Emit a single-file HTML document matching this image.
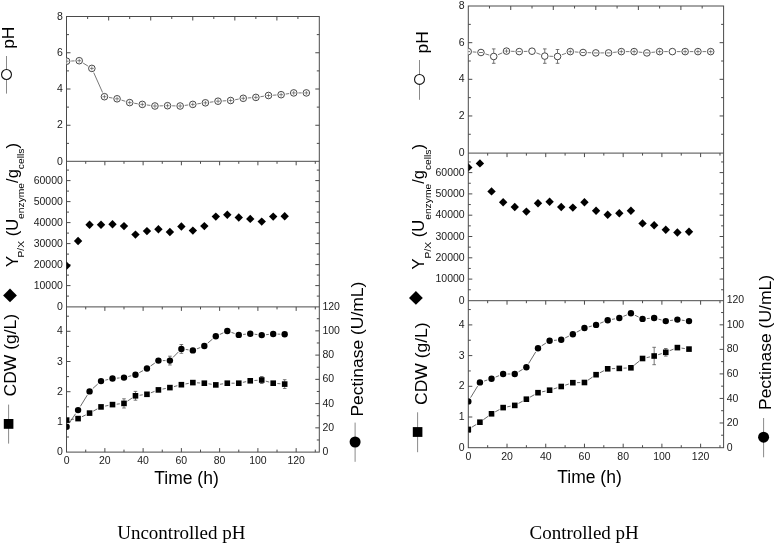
<!DOCTYPE html>
<html><head><meta charset="utf-8"><style>
html,body{margin:0;padding:0;background:#fff;}
svg{display:block;font-family:"Liberation Sans",sans-serif;will-change:transform;}
.cap{font-family:"Liberation Serif",serif;}
</style></head><body>
<svg width="778" height="546" viewBox="0 0 778 546">
<rect width="778" height="546" fill="#fff"/>
<rect x="66.5" y="16.5" width="252.8" height="435.6" fill="none" stroke="#4a4a4a" stroke-width="1"/>
<line x1="66.5" y1="161.3" x2="319.3" y2="161.3" stroke="#4a4a4a" stroke-width="1"/>
<line x1="66.5" y1="306.9" x2="319.3" y2="306.9" stroke="#4a4a4a" stroke-width="1"/>
<line x1="87.63" y1="16.5" x2="87.63" y2="19" stroke="#4a4a4a" stroke-width="1"/>
<line x1="108.66" y1="16.5" x2="108.66" y2="20.5" stroke="#4a4a4a" stroke-width="1"/>
<line x1="129.69" y1="16.5" x2="129.69" y2="19" stroke="#4a4a4a" stroke-width="1"/>
<line x1="150.72" y1="16.5" x2="150.72" y2="20.5" stroke="#4a4a4a" stroke-width="1"/>
<line x1="171.75" y1="16.5" x2="171.75" y2="19" stroke="#4a4a4a" stroke-width="1"/>
<line x1="192.78" y1="16.5" x2="192.78" y2="20.5" stroke="#4a4a4a" stroke-width="1"/>
<line x1="213.81" y1="16.5" x2="213.81" y2="19" stroke="#4a4a4a" stroke-width="1"/>
<line x1="234.84" y1="16.5" x2="234.84" y2="20.5" stroke="#4a4a4a" stroke-width="1"/>
<line x1="255.87" y1="16.5" x2="255.87" y2="19" stroke="#4a4a4a" stroke-width="1"/>
<line x1="276.9" y1="16.5" x2="276.9" y2="20.5" stroke="#4a4a4a" stroke-width="1"/>
<line x1="297.93" y1="16.5" x2="297.93" y2="19" stroke="#4a4a4a" stroke-width="1"/>
<line x1="85.73" y1="161.3" x2="85.73" y2="163.8" stroke="#4a4a4a" stroke-width="1"/>
<line x1="85.73" y1="306.9" x2="85.73" y2="309.4" stroke="#4a4a4a" stroke-width="1"/>
<line x1="85.73" y1="452.1" x2="85.73" y2="449.6" stroke="#4a4a4a" stroke-width="1"/>
<line x1="104.86" y1="161.3" x2="104.86" y2="165.3" stroke="#4a4a4a" stroke-width="1"/>
<line x1="104.86" y1="306.9" x2="104.86" y2="310.9" stroke="#4a4a4a" stroke-width="1"/>
<line x1="104.86" y1="452.1" x2="104.86" y2="448.1" stroke="#4a4a4a" stroke-width="1"/>
<line x1="123.99" y1="161.3" x2="123.99" y2="163.8" stroke="#4a4a4a" stroke-width="1"/>
<line x1="123.99" y1="306.9" x2="123.99" y2="309.4" stroke="#4a4a4a" stroke-width="1"/>
<line x1="123.99" y1="452.1" x2="123.99" y2="449.6" stroke="#4a4a4a" stroke-width="1"/>
<line x1="143.12" y1="161.3" x2="143.12" y2="165.3" stroke="#4a4a4a" stroke-width="1"/>
<line x1="143.12" y1="306.9" x2="143.12" y2="310.9" stroke="#4a4a4a" stroke-width="1"/>
<line x1="143.12" y1="452.1" x2="143.12" y2="448.1" stroke="#4a4a4a" stroke-width="1"/>
<line x1="162.25" y1="161.3" x2="162.25" y2="163.8" stroke="#4a4a4a" stroke-width="1"/>
<line x1="162.25" y1="306.9" x2="162.25" y2="309.4" stroke="#4a4a4a" stroke-width="1"/>
<line x1="162.25" y1="452.1" x2="162.25" y2="449.6" stroke="#4a4a4a" stroke-width="1"/>
<line x1="181.38" y1="161.3" x2="181.38" y2="165.3" stroke="#4a4a4a" stroke-width="1"/>
<line x1="181.38" y1="306.9" x2="181.38" y2="310.9" stroke="#4a4a4a" stroke-width="1"/>
<line x1="181.38" y1="452.1" x2="181.38" y2="448.1" stroke="#4a4a4a" stroke-width="1"/>
<line x1="200.51" y1="161.3" x2="200.51" y2="163.8" stroke="#4a4a4a" stroke-width="1"/>
<line x1="200.51" y1="306.9" x2="200.51" y2="309.4" stroke="#4a4a4a" stroke-width="1"/>
<line x1="200.51" y1="452.1" x2="200.51" y2="449.6" stroke="#4a4a4a" stroke-width="1"/>
<line x1="219.64" y1="161.3" x2="219.64" y2="165.3" stroke="#4a4a4a" stroke-width="1"/>
<line x1="219.64" y1="306.9" x2="219.64" y2="310.9" stroke="#4a4a4a" stroke-width="1"/>
<line x1="219.64" y1="452.1" x2="219.64" y2="448.1" stroke="#4a4a4a" stroke-width="1"/>
<line x1="238.77" y1="161.3" x2="238.77" y2="163.8" stroke="#4a4a4a" stroke-width="1"/>
<line x1="238.77" y1="306.9" x2="238.77" y2="309.4" stroke="#4a4a4a" stroke-width="1"/>
<line x1="238.77" y1="452.1" x2="238.77" y2="449.6" stroke="#4a4a4a" stroke-width="1"/>
<line x1="257.9" y1="161.3" x2="257.9" y2="165.3" stroke="#4a4a4a" stroke-width="1"/>
<line x1="257.9" y1="306.9" x2="257.9" y2="310.9" stroke="#4a4a4a" stroke-width="1"/>
<line x1="257.9" y1="452.1" x2="257.9" y2="448.1" stroke="#4a4a4a" stroke-width="1"/>
<line x1="277.03" y1="161.3" x2="277.03" y2="163.8" stroke="#4a4a4a" stroke-width="1"/>
<line x1="277.03" y1="306.9" x2="277.03" y2="309.4" stroke="#4a4a4a" stroke-width="1"/>
<line x1="277.03" y1="452.1" x2="277.03" y2="449.6" stroke="#4a4a4a" stroke-width="1"/>
<line x1="296.16" y1="161.3" x2="296.16" y2="165.3" stroke="#4a4a4a" stroke-width="1"/>
<line x1="296.16" y1="306.9" x2="296.16" y2="310.9" stroke="#4a4a4a" stroke-width="1"/>
<line x1="296.16" y1="452.1" x2="296.16" y2="448.1" stroke="#4a4a4a" stroke-width="1"/>
<line x1="315.29" y1="161.3" x2="315.29" y2="163.8" stroke="#4a4a4a" stroke-width="1"/>
<line x1="315.29" y1="306.9" x2="315.29" y2="309.4" stroke="#4a4a4a" stroke-width="1"/>
<line x1="315.29" y1="452.1" x2="315.29" y2="449.6" stroke="#4a4a4a" stroke-width="1"/>
<line x1="66.5" y1="143.38" x2="69" y2="143.38" stroke="#4a4a4a" stroke-width="1"/>
<line x1="319.3" y1="143.38" x2="316.8" y2="143.38" stroke="#4a4a4a" stroke-width="1"/>
<line x1="66.5" y1="125.25" x2="70.5" y2="125.25" stroke="#4a4a4a" stroke-width="1"/>
<line x1="319.3" y1="125.25" x2="315.3" y2="125.25" stroke="#4a4a4a" stroke-width="1"/>
<line x1="66.5" y1="107.12" x2="69" y2="107.12" stroke="#4a4a4a" stroke-width="1"/>
<line x1="319.3" y1="107.12" x2="316.8" y2="107.12" stroke="#4a4a4a" stroke-width="1"/>
<line x1="66.5" y1="89" x2="70.5" y2="89" stroke="#4a4a4a" stroke-width="1"/>
<line x1="319.3" y1="89" x2="315.3" y2="89" stroke="#4a4a4a" stroke-width="1"/>
<line x1="66.5" y1="70.88" x2="69" y2="70.88" stroke="#4a4a4a" stroke-width="1"/>
<line x1="319.3" y1="70.88" x2="316.8" y2="70.88" stroke="#4a4a4a" stroke-width="1"/>
<line x1="66.5" y1="52.75" x2="70.5" y2="52.75" stroke="#4a4a4a" stroke-width="1"/>
<line x1="319.3" y1="52.75" x2="315.3" y2="52.75" stroke="#4a4a4a" stroke-width="1"/>
<line x1="66.5" y1="34.62" x2="69" y2="34.62" stroke="#4a4a4a" stroke-width="1"/>
<line x1="319.3" y1="34.62" x2="316.8" y2="34.62" stroke="#4a4a4a" stroke-width="1"/>
<line x1="66.5" y1="296.1" x2="69" y2="296.1" stroke="#4a4a4a" stroke-width="1"/>
<line x1="319.3" y1="296.1" x2="316.8" y2="296.1" stroke="#4a4a4a" stroke-width="1"/>
<line x1="66.5" y1="285.6" x2="70.5" y2="285.6" stroke="#4a4a4a" stroke-width="1"/>
<line x1="319.3" y1="285.6" x2="315.3" y2="285.6" stroke="#4a4a4a" stroke-width="1"/>
<line x1="66.5" y1="275.1" x2="69" y2="275.1" stroke="#4a4a4a" stroke-width="1"/>
<line x1="319.3" y1="275.1" x2="316.8" y2="275.1" stroke="#4a4a4a" stroke-width="1"/>
<line x1="66.5" y1="264.6" x2="70.5" y2="264.6" stroke="#4a4a4a" stroke-width="1"/>
<line x1="319.3" y1="264.6" x2="315.3" y2="264.6" stroke="#4a4a4a" stroke-width="1"/>
<line x1="66.5" y1="254.1" x2="69" y2="254.1" stroke="#4a4a4a" stroke-width="1"/>
<line x1="319.3" y1="254.1" x2="316.8" y2="254.1" stroke="#4a4a4a" stroke-width="1"/>
<line x1="66.5" y1="243.6" x2="70.5" y2="243.6" stroke="#4a4a4a" stroke-width="1"/>
<line x1="319.3" y1="243.6" x2="315.3" y2="243.6" stroke="#4a4a4a" stroke-width="1"/>
<line x1="66.5" y1="233.1" x2="69" y2="233.1" stroke="#4a4a4a" stroke-width="1"/>
<line x1="319.3" y1="233.1" x2="316.8" y2="233.1" stroke="#4a4a4a" stroke-width="1"/>
<line x1="66.5" y1="222.6" x2="70.5" y2="222.6" stroke="#4a4a4a" stroke-width="1"/>
<line x1="319.3" y1="222.6" x2="315.3" y2="222.6" stroke="#4a4a4a" stroke-width="1"/>
<line x1="66.5" y1="212.1" x2="69" y2="212.1" stroke="#4a4a4a" stroke-width="1"/>
<line x1="319.3" y1="212.1" x2="316.8" y2="212.1" stroke="#4a4a4a" stroke-width="1"/>
<line x1="66.5" y1="201.6" x2="70.5" y2="201.6" stroke="#4a4a4a" stroke-width="1"/>
<line x1="319.3" y1="201.6" x2="315.3" y2="201.6" stroke="#4a4a4a" stroke-width="1"/>
<line x1="66.5" y1="191.1" x2="69" y2="191.1" stroke="#4a4a4a" stroke-width="1"/>
<line x1="319.3" y1="191.1" x2="316.8" y2="191.1" stroke="#4a4a4a" stroke-width="1"/>
<line x1="66.5" y1="180.6" x2="70.5" y2="180.6" stroke="#4a4a4a" stroke-width="1"/>
<line x1="319.3" y1="180.6" x2="315.3" y2="180.6" stroke="#4a4a4a" stroke-width="1"/>
<line x1="66.5" y1="170.1" x2="69" y2="170.1" stroke="#4a4a4a" stroke-width="1"/>
<line x1="319.3" y1="170.1" x2="316.8" y2="170.1" stroke="#4a4a4a" stroke-width="1"/>
<line x1="66.5" y1="437" x2="69" y2="437" stroke="#4a4a4a" stroke-width="1"/>
<line x1="66.5" y1="421.9" x2="70.5" y2="421.9" stroke="#4a4a4a" stroke-width="1"/>
<line x1="66.5" y1="406.8" x2="69" y2="406.8" stroke="#4a4a4a" stroke-width="1"/>
<line x1="66.5" y1="391.7" x2="70.5" y2="391.7" stroke="#4a4a4a" stroke-width="1"/>
<line x1="66.5" y1="376.6" x2="69" y2="376.6" stroke="#4a4a4a" stroke-width="1"/>
<line x1="66.5" y1="361.5" x2="70.5" y2="361.5" stroke="#4a4a4a" stroke-width="1"/>
<line x1="66.5" y1="346.4" x2="69" y2="346.4" stroke="#4a4a4a" stroke-width="1"/>
<line x1="66.5" y1="331.3" x2="70.5" y2="331.3" stroke="#4a4a4a" stroke-width="1"/>
<line x1="66.5" y1="316.2" x2="69" y2="316.2" stroke="#4a4a4a" stroke-width="1"/>
<line x1="319.3" y1="439.98" x2="316.8" y2="439.98" stroke="#4a4a4a" stroke-width="1"/>
<line x1="319.3" y1="427.85" x2="315.3" y2="427.85" stroke="#4a4a4a" stroke-width="1"/>
<line x1="319.3" y1="415.73" x2="316.8" y2="415.73" stroke="#4a4a4a" stroke-width="1"/>
<line x1="319.3" y1="403.6" x2="315.3" y2="403.6" stroke="#4a4a4a" stroke-width="1"/>
<line x1="319.3" y1="391.48" x2="316.8" y2="391.48" stroke="#4a4a4a" stroke-width="1"/>
<line x1="319.3" y1="379.35" x2="315.3" y2="379.35" stroke="#4a4a4a" stroke-width="1"/>
<line x1="319.3" y1="367.23" x2="316.8" y2="367.23" stroke="#4a4a4a" stroke-width="1"/>
<line x1="319.3" y1="355.1" x2="315.3" y2="355.1" stroke="#4a4a4a" stroke-width="1"/>
<line x1="319.3" y1="342.98" x2="316.8" y2="342.98" stroke="#4a4a4a" stroke-width="1"/>
<line x1="319.3" y1="330.85" x2="315.3" y2="330.85" stroke="#4a4a4a" stroke-width="1"/>
<line x1="319.3" y1="318.73" x2="316.8" y2="318.73" stroke="#4a4a4a" stroke-width="1"/>
<text x="62.9" y="164.6" font-size="10.5" text-anchor="end" fill="#1a1a1a">0</text>
<text x="62.9" y="128.35" font-size="10.5" text-anchor="end" fill="#1a1a1a">2</text>
<text x="62.9" y="92.1" font-size="10.5" text-anchor="end" fill="#1a1a1a">4</text>
<text x="62.9" y="55.85" font-size="10.5" text-anchor="end" fill="#1a1a1a">6</text>
<text x="62.9" y="19.6" font-size="10.5" text-anchor="end" fill="#1a1a1a">8</text>
<text x="62.9" y="309.7" font-size="10.5" text-anchor="end" fill="#1a1a1a">0</text>
<text x="62.9" y="288.7" font-size="10.5" text-anchor="end" fill="#1a1a1a">10000</text>
<text x="62.9" y="267.7" font-size="10.5" text-anchor="end" fill="#1a1a1a">20000</text>
<text x="62.9" y="246.7" font-size="10.5" text-anchor="end" fill="#1a1a1a">30000</text>
<text x="62.9" y="225.7" font-size="10.5" text-anchor="end" fill="#1a1a1a">40000</text>
<text x="62.9" y="204.7" font-size="10.5" text-anchor="end" fill="#1a1a1a">50000</text>
<text x="62.9" y="183.7" font-size="10.5" text-anchor="end" fill="#1a1a1a">60000</text>
<text x="62.9" y="455.2" font-size="10.5" text-anchor="end" fill="#1a1a1a">0</text>
<text x="62.9" y="425" font-size="10.5" text-anchor="end" fill="#1a1a1a">1</text>
<text x="62.9" y="394.8" font-size="10.5" text-anchor="end" fill="#1a1a1a">2</text>
<text x="62.9" y="364.6" font-size="10.5" text-anchor="end" fill="#1a1a1a">3</text>
<text x="62.9" y="334.4" font-size="10.5" text-anchor="end" fill="#1a1a1a">4</text>
<text x="322.4" y="455.2" font-size="10.5" text-anchor="start" fill="#1a1a1a">0</text>
<text x="322.4" y="430.95" font-size="10.5" text-anchor="start" fill="#1a1a1a">20</text>
<text x="322.4" y="406.7" font-size="10.5" text-anchor="start" fill="#1a1a1a">40</text>
<text x="322.4" y="382.45" font-size="10.5" text-anchor="start" fill="#1a1a1a">60</text>
<text x="322.4" y="358.2" font-size="10.5" text-anchor="start" fill="#1a1a1a">80</text>
<text x="322.4" y="333.95" font-size="10.5" text-anchor="start" fill="#1a1a1a">100</text>
<text x="322.4" y="309.7" font-size="10.5" text-anchor="start" fill="#1a1a1a">120</text>
<text x="66.6" y="464.1" font-size="10.5" text-anchor="middle" fill="#1a1a1a">0</text>
<text x="104.86" y="464.1" font-size="10.5" text-anchor="middle" fill="#1a1a1a">20</text>
<text x="143.12" y="464.1" font-size="10.5" text-anchor="middle" fill="#1a1a1a">40</text>
<text x="181.38" y="464.1" font-size="10.5" text-anchor="middle" fill="#1a1a1a">60</text>
<text x="219.64" y="464.1" font-size="10.5" text-anchor="middle" fill="#1a1a1a">80</text>
<text x="257.9" y="464.1" font-size="10.5" text-anchor="middle" fill="#1a1a1a">100</text>
<text x="296.16" y="464.1" font-size="10.5" text-anchor="middle" fill="#1a1a1a">120</text>
<clipPath id="cL"><rect x="66.5" y="0" width="262.8" height="546"/></clipPath>
<g clip-path="url(#cL)">
<path d="M71.2 61.02L74.62 60.88M83.14 63.1L87.91 66M93.71 72.6L102.58 92.5M108.99 97.46L112.53 98.04M121.48 100.13L125.29 101.27M134.24 103.25L137.75 103.75M146.87 104.98L150.36 105.42M159.52 105.89L162.95 105.81M172.14 105.81L175.56 105.89M184.73 105.42L188.22 104.98M197.34 103.82L200.83 103.38M209.96 102.22L213.45 101.78M222.61 100.95L226.04 100.75M235.17 99.71L238.72 99.09M247.84 97.97L251.28 97.73M260.42 96.72L263.94 96.18M273.08 95.21L276.52 94.99M285.66 94.05L289.17 93.55M298.32 92.9L301.74 92.9" fill="none" stroke="#555" stroke-width="0.8"/>
<circle cx="66.6" cy="61.2" r="3.3" fill="#fff" stroke="#333" stroke-width="0.9"/>
<path d="M64.6 61.2h4M66.6 59.2v4" stroke="#555" stroke-width="0.7"/>
<circle cx="79.22" cy="60.7" r="3.3" fill="#fff" stroke="#333" stroke-width="0.9"/>
<path d="M77.22 60.7h4M79.22 58.7v4" stroke="#555" stroke-width="0.7"/>
<circle cx="91.84" cy="68.4" r="3.3" fill="#fff" stroke="#333" stroke-width="0.9"/>
<path d="M89.84 68.4h4M91.84 66.4v4" stroke="#555" stroke-width="0.7"/>
<circle cx="104.45" cy="96.7" r="3.3" fill="#fff" stroke="#333" stroke-width="0.9"/>
<path d="M102.45 96.7h4M104.45 94.7v4" stroke="#555" stroke-width="0.7"/>
<circle cx="117.07" cy="98.8" r="3.3" fill="#fff" stroke="#333" stroke-width="0.9"/>
<path d="M115.07 98.8h4M117.07 96.8v4" stroke="#555" stroke-width="0.7"/>
<circle cx="129.69" cy="102.6" r="3.3" fill="#fff" stroke="#333" stroke-width="0.9"/>
<path d="M127.69 102.6h4M129.69 100.6v4" stroke="#555" stroke-width="0.7"/>
<circle cx="142.31" cy="104.4" r="3.3" fill="#fff" stroke="#333" stroke-width="0.9"/>
<path d="M140.31 104.4h4M142.31 102.4v4" stroke="#555" stroke-width="0.7"/>
<circle cx="154.93" cy="106" r="3.3" fill="#fff" stroke="#333" stroke-width="0.9"/>
<path d="M152.93 106h4M154.93 104v4" stroke="#555" stroke-width="0.7"/>
<circle cx="167.54" cy="105.7" r="3.3" fill="#fff" stroke="#333" stroke-width="0.9"/>
<path d="M165.54 105.7h4M167.54 103.7v4" stroke="#555" stroke-width="0.7"/>
<circle cx="180.16" cy="106" r="3.3" fill="#fff" stroke="#333" stroke-width="0.9"/>
<path d="M178.16 106h4M180.16 104v4" stroke="#555" stroke-width="0.7"/>
<circle cx="192.78" cy="104.4" r="3.3" fill="#fff" stroke="#333" stroke-width="0.9"/>
<path d="M190.78 104.4h4M192.78 102.4v4" stroke="#555" stroke-width="0.7"/>
<circle cx="205.4" cy="102.8" r="3.3" fill="#fff" stroke="#333" stroke-width="0.9"/>
<path d="M203.4 102.8h4M205.4 100.8v4" stroke="#555" stroke-width="0.7"/>
<circle cx="218.02" cy="101.2" r="3.3" fill="#fff" stroke="#333" stroke-width="0.9"/>
<path d="M216.02 101.2h4M218.02 99.2v4" stroke="#555" stroke-width="0.7"/>
<circle cx="230.63" cy="100.5" r="3.3" fill="#fff" stroke="#333" stroke-width="0.9"/>
<path d="M228.63 100.5h4M230.63 98.5v4" stroke="#555" stroke-width="0.7"/>
<circle cx="243.25" cy="98.3" r="3.3" fill="#fff" stroke="#333" stroke-width="0.9"/>
<path d="M241.25 98.3h4M243.25 96.3v4" stroke="#555" stroke-width="0.7"/>
<circle cx="255.87" cy="97.4" r="3.3" fill="#fff" stroke="#333" stroke-width="0.9"/>
<path d="M253.87 97.4h4M255.87 95.4v4" stroke="#555" stroke-width="0.7"/>
<circle cx="268.49" cy="95.5" r="3.3" fill="#fff" stroke="#333" stroke-width="0.9"/>
<path d="M266.49 95.5h4M268.49 93.5v4" stroke="#555" stroke-width="0.7"/>
<circle cx="281.11" cy="94.7" r="3.3" fill="#fff" stroke="#333" stroke-width="0.9"/>
<path d="M279.11 94.7h4M281.11 92.7v4" stroke="#555" stroke-width="0.7"/>
<circle cx="293.72" cy="92.9" r="3.3" fill="#fff" stroke="#333" stroke-width="0.9"/>
<path d="M291.72 92.9h4M293.72 90.9v4" stroke="#555" stroke-width="0.7"/>
<circle cx="306.34" cy="92.9" r="3.3" fill="#fff" stroke="#333" stroke-width="0.9"/>
<path d="M304.34 92.9h4M306.34 90.9v4" stroke="#555" stroke-width="0.7"/>
<path d="M66.6 261.5L70.8 265.7L66.6 269.9L62.4 265.7Z" fill="#000"/>
<path d="M78.08 236.8L82.28 241L78.08 245.2L73.88 241Z" fill="#000"/>
<path d="M89.56 220.5L93.76 224.7L89.56 228.9L85.36 224.7Z" fill="#000"/>
<path d="M101.03 220.5L105.23 224.7L101.03 228.9L96.83 224.7Z" fill="#000"/>
<path d="M112.51 220.1L116.71 224.3L112.51 228.5L108.31 224.3Z" fill="#000"/>
<path d="M123.99 221.9L128.19 226.1L123.99 230.3L119.79 226.1Z" fill="#000"/>
<path d="M135.47 230.4L139.67 234.6L135.47 238.8L131.27 234.6Z" fill="#000"/>
<path d="M146.95 226.9L151.15 231.1L146.95 235.3L142.75 231.1Z" fill="#000"/>
<path d="M158.42 225.1L162.62 229.3L158.42 233.5L154.22 229.3Z" fill="#000"/>
<path d="M169.9 227.8L174.1 232L169.9 236.2L165.7 232Z" fill="#000"/>
<path d="M181.38 222.3L185.58 226.5L181.38 230.7L177.18 226.5Z" fill="#000"/>
<path d="M192.86 226.4L197.06 230.6L192.86 234.8L188.66 230.6Z" fill="#000"/>
<path d="M204.34 221.9L208.54 226.1L204.34 230.3L200.14 226.1Z" fill="#000"/>
<path d="M215.81 212.4L220.01 216.6L215.81 220.8L211.61 216.6Z" fill="#000"/>
<path d="M227.29 210.6L231.49 214.8L227.29 219L223.09 214.8Z" fill="#000"/>
<path d="M238.77 213.3L242.97 217.5L238.77 221.7L234.57 217.5Z" fill="#000"/>
<path d="M250.25 214.7L254.45 218.9L250.25 223.1L246.05 218.9Z" fill="#000"/>
<path d="M261.73 217.4L265.93 221.6L261.73 225.8L257.53 221.6Z" fill="#000"/>
<path d="M273.2 212.4L277.4 216.6L273.2 220.8L269 216.6Z" fill="#000"/>
<path d="M284.68 212L288.88 216.2L284.68 220.4L280.48 216.2Z" fill="#000"/>
<path d="M69.09 423.17L75.59 413.73M80.38 406.35L87.25 395.15M92.83 388.46L97.76 384.04M105.33 380.13L108.22 379.47M116.9 378.16L119.6 377.94M128.26 376.52L131.2 375.78M139.34 372.61L143.07 370.59M150.57 366.01L154.8 363.09M162.82 360.6L165.5 360.6M172.98 357.46L178.3 352.04M185.74 349.47L188.5 349.83M196.97 348.83L200.23 347.57M207.7 343.16L212.45 339.14M219.81 334.46L223.3 332.84M231.46 332.42L234.6 333.48M243.15 334.44L245.87 334.16M254.62 334.23L257.36 334.57M266.11 334.68L268.82 334.42M277.6 334.11L280.28 334.19" fill="none" stroke="#444" stroke-width="0.8"/>
<path d="M70.76 419.56L73.91 419.14M81.87 416.79L85.77 414.91M93.25 411.1L97.34 408.9M105.15 406.07L108.39 405.43M116.69 404.16L119.81 403.84M127.49 401.08L131.97 398.12M139.63 395.26L142.78 394.84M150.87 392.8L154.5 391.4M162.54 389.07L165.78 388.43M173.97 386.57L177.31 385.73M185.51 383.94L188.73 383.36M197.05 382.82L200.14 382.98M208.49 383.82L211.66 384.28M219.97 384.28L223.14 383.82M231.49 383.2L234.57 383.2M242.88 382.34L246.14 381.66M254.44 380.51L257.54 380.29M265.77 381.13L269.16 382.07M277.39 383.53L280.49 383.77" fill="none" stroke="#444" stroke-width="0.8"/>
<path d="M169.9 356.2V365M168.1 356.2h3.6M168.1 365h3.6" stroke="#555" stroke-width="0.8" fill="none"/>
<path d="M181.38 344.5V353.3M179.58 344.5h3.6M179.58 353.3h3.6" stroke="#555" stroke-width="0.8" fill="none"/>
<path d="M123.99 398.8V408M122.19 398.8h3.6M122.19 408h3.6" stroke="#555" stroke-width="0.8" fill="none"/>
<path d="M135.47 391.4V400.2M133.67 391.4h3.6M133.67 400.2h3.6" stroke="#555" stroke-width="0.8" fill="none"/>
<path d="M284.68 379.7V388.5M282.88 379.7h3.6M282.88 388.5h3.6" stroke="#555" stroke-width="0.8" fill="none"/>
<path d="M261.73 376.5V383.5M259.93 376.5h3.6M259.93 383.5h3.6" stroke="#555" stroke-width="0.8" fill="none"/>
<circle cx="66.6" cy="426.8" r="3.2" fill="#000"/>
<circle cx="78.08" cy="410.1" r="3.2" fill="#000"/>
<circle cx="89.56" cy="391.4" r="3.2" fill="#000"/>
<circle cx="101.03" cy="381.1" r="3.2" fill="#000"/>
<circle cx="112.51" cy="378.5" r="3.2" fill="#000"/>
<circle cx="123.99" cy="377.6" r="3.2" fill="#000"/>
<circle cx="135.47" cy="374.7" r="3.2" fill="#000"/>
<circle cx="146.95" cy="368.5" r="3.2" fill="#000"/>
<circle cx="158.42" cy="360.6" r="3.2" fill="#000"/>
<circle cx="169.9" cy="360.6" r="3.2" fill="#000"/>
<circle cx="181.38" cy="348.9" r="3.2" fill="#000"/>
<circle cx="192.86" cy="350.4" r="3.2" fill="#000"/>
<circle cx="204.34" cy="346" r="3.2" fill="#000"/>
<circle cx="215.81" cy="336.3" r="3.2" fill="#000"/>
<circle cx="227.29" cy="331" r="3.2" fill="#000"/>
<circle cx="238.77" cy="334.9" r="3.2" fill="#000"/>
<circle cx="250.25" cy="333.7" r="3.2" fill="#000"/>
<circle cx="261.73" cy="335.1" r="3.2" fill="#000"/>
<circle cx="273.2" cy="334" r="3.2" fill="#000"/>
<circle cx="284.68" cy="334.3" r="3.2" fill="#000"/>
<rect x="63.8" y="417.3" width="5.6" height="5.6" fill="#000"/>
<rect x="75.28" y="415.8" width="5.6" height="5.6" fill="#000"/>
<rect x="86.76" y="410.3" width="5.6" height="5.6" fill="#000"/>
<rect x="98.23" y="404.1" width="5.6" height="5.6" fill="#000"/>
<rect x="109.71" y="401.8" width="5.6" height="5.6" fill="#000"/>
<rect x="121.19" y="400.6" width="5.6" height="5.6" fill="#000"/>
<rect x="132.67" y="393" width="5.6" height="5.6" fill="#000"/>
<rect x="144.15" y="391.5" width="5.6" height="5.6" fill="#000"/>
<rect x="155.62" y="387.1" width="5.6" height="5.6" fill="#000"/>
<rect x="167.1" y="384.8" width="5.6" height="5.6" fill="#000"/>
<rect x="178.58" y="381.9" width="5.6" height="5.6" fill="#000"/>
<rect x="190.06" y="379.8" width="5.6" height="5.6" fill="#000"/>
<rect x="201.54" y="380.4" width="5.6" height="5.6" fill="#000"/>
<rect x="213.01" y="382.1" width="5.6" height="5.6" fill="#000"/>
<rect x="224.49" y="380.4" width="5.6" height="5.6" fill="#000"/>
<rect x="235.97" y="380.4" width="5.6" height="5.6" fill="#000"/>
<rect x="247.45" y="378" width="5.6" height="5.6" fill="#000"/>
<rect x="258.93" y="377.2" width="5.6" height="5.6" fill="#000"/>
<rect x="270.4" y="380.4" width="5.6" height="5.6" fill="#000"/>
<rect x="281.88" y="381.3" width="5.6" height="5.6" fill="#000"/>
</g>
<text transform="translate(14.4,37.7) rotate(-90) scale(1,0.95)" font-size="17.5" text-anchor="middle" fill="#000">pH</text>
<line x1="6.5" y1="56" x2="6.5" y2="93.6" stroke="#8a8a8a" stroke-width="1"/>
<circle cx="6.5" cy="74.5" r="4.95" fill="#fff" stroke="#111" stroke-width="1.1"/>
<text transform="translate(17.6,267.1) rotate(-90) scale(1,0.95)" font-size="16.5" fill="#000">Y<tspan font-size="10.3" dx="-1.4" dy="7">P/X</tspan><tspan dy="-7"> (U</tspan><tspan font-size="10.3" dy="7">enzyme</tspan><tspan dy="-7">/g</tspan><tspan font-size="10.3" dy="7">cells</tspan><tspan dy="-7">)</tspan></text>
<path d="M10 288.6L16.9 295.4L10 302.2L3.1 295.4Z" fill="#000"/>
<text transform="translate(16.2,355.2) rotate(-90) scale(1,0.95)" font-size="17.5" text-anchor="middle" fill="#000">CDW (g/L)</text>
<line x1="8.6" y1="404.6" x2="8.6" y2="443.6" stroke="#8a8a8a" stroke-width="1"/>
<rect x="3.8" y="419" width="9.6" height="9.8" fill="#000"/>
<text transform="translate(363,349.1) rotate(-90) scale(1,0.95)" font-size="17.5" text-anchor="middle" fill="#000">Pectinase (U/mL)</text>
<line x1="355.1" y1="422.6" x2="355.1" y2="461.8" stroke="#8a8a8a" stroke-width="1"/>
<circle cx="355.1" cy="442" r="5.5" fill="#000"/>
<text x="186.5" y="483.6" font-size="17.5" text-anchor="middle" fill="#000">Time (h)</text>
<rect x="468.3" y="6" width="255.3" height="441.7" fill="none" stroke="#4a4a4a" stroke-width="1"/>
<line x1="468.3" y1="153.1" x2="723.6" y2="153.1" stroke="#4a4a4a" stroke-width="1"/>
<line x1="468.3" y1="300.7" x2="723.6" y2="300.7" stroke="#4a4a4a" stroke-width="1"/>
<line x1="489.47" y1="6" x2="489.47" y2="8.5" stroke="#4a4a4a" stroke-width="1"/>
<line x1="510.74" y1="6" x2="510.74" y2="10" stroke="#4a4a4a" stroke-width="1"/>
<line x1="532.01" y1="6" x2="532.01" y2="8.5" stroke="#4a4a4a" stroke-width="1"/>
<line x1="553.28" y1="6" x2="553.28" y2="10" stroke="#4a4a4a" stroke-width="1"/>
<line x1="574.55" y1="6" x2="574.55" y2="8.5" stroke="#4a4a4a" stroke-width="1"/>
<line x1="595.82" y1="6" x2="595.82" y2="10" stroke="#4a4a4a" stroke-width="1"/>
<line x1="617.09" y1="6" x2="617.09" y2="8.5" stroke="#4a4a4a" stroke-width="1"/>
<line x1="638.36" y1="6" x2="638.36" y2="10" stroke="#4a4a4a" stroke-width="1"/>
<line x1="659.63" y1="6" x2="659.63" y2="8.5" stroke="#4a4a4a" stroke-width="1"/>
<line x1="680.9" y1="6" x2="680.9" y2="10" stroke="#4a4a4a" stroke-width="1"/>
<line x1="702.17" y1="6" x2="702.17" y2="8.5" stroke="#4a4a4a" stroke-width="1"/>
<line x1="487.66" y1="153.1" x2="487.66" y2="155.6" stroke="#4a4a4a" stroke-width="1"/>
<line x1="487.66" y1="300.7" x2="487.66" y2="303.2" stroke="#4a4a4a" stroke-width="1"/>
<line x1="487.66" y1="447.7" x2="487.66" y2="445.2" stroke="#4a4a4a" stroke-width="1"/>
<line x1="507.02" y1="153.1" x2="507.02" y2="157.1" stroke="#4a4a4a" stroke-width="1"/>
<line x1="507.02" y1="300.7" x2="507.02" y2="304.7" stroke="#4a4a4a" stroke-width="1"/>
<line x1="507.02" y1="447.7" x2="507.02" y2="443.7" stroke="#4a4a4a" stroke-width="1"/>
<line x1="526.38" y1="153.1" x2="526.38" y2="155.6" stroke="#4a4a4a" stroke-width="1"/>
<line x1="526.38" y1="300.7" x2="526.38" y2="303.2" stroke="#4a4a4a" stroke-width="1"/>
<line x1="526.38" y1="447.7" x2="526.38" y2="445.2" stroke="#4a4a4a" stroke-width="1"/>
<line x1="545.74" y1="153.1" x2="545.74" y2="157.1" stroke="#4a4a4a" stroke-width="1"/>
<line x1="545.74" y1="300.7" x2="545.74" y2="304.7" stroke="#4a4a4a" stroke-width="1"/>
<line x1="545.74" y1="447.7" x2="545.74" y2="443.7" stroke="#4a4a4a" stroke-width="1"/>
<line x1="565.1" y1="153.1" x2="565.1" y2="155.6" stroke="#4a4a4a" stroke-width="1"/>
<line x1="565.1" y1="300.7" x2="565.1" y2="303.2" stroke="#4a4a4a" stroke-width="1"/>
<line x1="565.1" y1="447.7" x2="565.1" y2="445.2" stroke="#4a4a4a" stroke-width="1"/>
<line x1="584.46" y1="153.1" x2="584.46" y2="157.1" stroke="#4a4a4a" stroke-width="1"/>
<line x1="584.46" y1="300.7" x2="584.46" y2="304.7" stroke="#4a4a4a" stroke-width="1"/>
<line x1="584.46" y1="447.7" x2="584.46" y2="443.7" stroke="#4a4a4a" stroke-width="1"/>
<line x1="603.82" y1="153.1" x2="603.82" y2="155.6" stroke="#4a4a4a" stroke-width="1"/>
<line x1="603.82" y1="300.7" x2="603.82" y2="303.2" stroke="#4a4a4a" stroke-width="1"/>
<line x1="603.82" y1="447.7" x2="603.82" y2="445.2" stroke="#4a4a4a" stroke-width="1"/>
<line x1="623.18" y1="153.1" x2="623.18" y2="157.1" stroke="#4a4a4a" stroke-width="1"/>
<line x1="623.18" y1="300.7" x2="623.18" y2="304.7" stroke="#4a4a4a" stroke-width="1"/>
<line x1="623.18" y1="447.7" x2="623.18" y2="443.7" stroke="#4a4a4a" stroke-width="1"/>
<line x1="642.54" y1="153.1" x2="642.54" y2="155.6" stroke="#4a4a4a" stroke-width="1"/>
<line x1="642.54" y1="300.7" x2="642.54" y2="303.2" stroke="#4a4a4a" stroke-width="1"/>
<line x1="642.54" y1="447.7" x2="642.54" y2="445.2" stroke="#4a4a4a" stroke-width="1"/>
<line x1="661.9" y1="153.1" x2="661.9" y2="157.1" stroke="#4a4a4a" stroke-width="1"/>
<line x1="661.9" y1="300.7" x2="661.9" y2="304.7" stroke="#4a4a4a" stroke-width="1"/>
<line x1="661.9" y1="447.7" x2="661.9" y2="443.7" stroke="#4a4a4a" stroke-width="1"/>
<line x1="681.26" y1="153.1" x2="681.26" y2="155.6" stroke="#4a4a4a" stroke-width="1"/>
<line x1="681.26" y1="300.7" x2="681.26" y2="303.2" stroke="#4a4a4a" stroke-width="1"/>
<line x1="681.26" y1="447.7" x2="681.26" y2="445.2" stroke="#4a4a4a" stroke-width="1"/>
<line x1="700.62" y1="153.1" x2="700.62" y2="157.1" stroke="#4a4a4a" stroke-width="1"/>
<line x1="700.62" y1="300.7" x2="700.62" y2="304.7" stroke="#4a4a4a" stroke-width="1"/>
<line x1="700.62" y1="447.7" x2="700.62" y2="443.7" stroke="#4a4a4a" stroke-width="1"/>
<line x1="719.98" y1="153.1" x2="719.98" y2="155.6" stroke="#4a4a4a" stroke-width="1"/>
<line x1="719.98" y1="300.7" x2="719.98" y2="303.2" stroke="#4a4a4a" stroke-width="1"/>
<line x1="719.98" y1="447.7" x2="719.98" y2="445.2" stroke="#4a4a4a" stroke-width="1"/>
<line x1="468.3" y1="134.28" x2="470.8" y2="134.28" stroke="#4a4a4a" stroke-width="1"/>
<line x1="723.6" y1="134.28" x2="721.1" y2="134.28" stroke="#4a4a4a" stroke-width="1"/>
<line x1="468.3" y1="115.96" x2="472.3" y2="115.96" stroke="#4a4a4a" stroke-width="1"/>
<line x1="723.6" y1="115.96" x2="719.6" y2="115.96" stroke="#4a4a4a" stroke-width="1"/>
<line x1="468.3" y1="97.64" x2="470.8" y2="97.64" stroke="#4a4a4a" stroke-width="1"/>
<line x1="723.6" y1="97.64" x2="721.1" y2="97.64" stroke="#4a4a4a" stroke-width="1"/>
<line x1="468.3" y1="79.32" x2="472.3" y2="79.32" stroke="#4a4a4a" stroke-width="1"/>
<line x1="723.6" y1="79.32" x2="719.6" y2="79.32" stroke="#4a4a4a" stroke-width="1"/>
<line x1="468.3" y1="61" x2="470.8" y2="61" stroke="#4a4a4a" stroke-width="1"/>
<line x1="723.6" y1="61" x2="721.1" y2="61" stroke="#4a4a4a" stroke-width="1"/>
<line x1="468.3" y1="42.68" x2="472.3" y2="42.68" stroke="#4a4a4a" stroke-width="1"/>
<line x1="723.6" y1="42.68" x2="719.6" y2="42.68" stroke="#4a4a4a" stroke-width="1"/>
<line x1="468.3" y1="24.36" x2="470.8" y2="24.36" stroke="#4a4a4a" stroke-width="1"/>
<line x1="723.6" y1="24.36" x2="721.1" y2="24.36" stroke="#4a4a4a" stroke-width="1"/>
<line x1="468.3" y1="289.75" x2="470.8" y2="289.75" stroke="#4a4a4a" stroke-width="1"/>
<line x1="723.6" y1="289.75" x2="721.1" y2="289.75" stroke="#4a4a4a" stroke-width="1"/>
<line x1="468.3" y1="279.1" x2="472.3" y2="279.1" stroke="#4a4a4a" stroke-width="1"/>
<line x1="723.6" y1="279.1" x2="719.6" y2="279.1" stroke="#4a4a4a" stroke-width="1"/>
<line x1="468.3" y1="268.45" x2="470.8" y2="268.45" stroke="#4a4a4a" stroke-width="1"/>
<line x1="723.6" y1="268.45" x2="721.1" y2="268.45" stroke="#4a4a4a" stroke-width="1"/>
<line x1="468.3" y1="257.8" x2="472.3" y2="257.8" stroke="#4a4a4a" stroke-width="1"/>
<line x1="723.6" y1="257.8" x2="719.6" y2="257.8" stroke="#4a4a4a" stroke-width="1"/>
<line x1="468.3" y1="247.15" x2="470.8" y2="247.15" stroke="#4a4a4a" stroke-width="1"/>
<line x1="723.6" y1="247.15" x2="721.1" y2="247.15" stroke="#4a4a4a" stroke-width="1"/>
<line x1="468.3" y1="236.5" x2="472.3" y2="236.5" stroke="#4a4a4a" stroke-width="1"/>
<line x1="723.6" y1="236.5" x2="719.6" y2="236.5" stroke="#4a4a4a" stroke-width="1"/>
<line x1="468.3" y1="225.85" x2="470.8" y2="225.85" stroke="#4a4a4a" stroke-width="1"/>
<line x1="723.6" y1="225.85" x2="721.1" y2="225.85" stroke="#4a4a4a" stroke-width="1"/>
<line x1="468.3" y1="215.2" x2="472.3" y2="215.2" stroke="#4a4a4a" stroke-width="1"/>
<line x1="723.6" y1="215.2" x2="719.6" y2="215.2" stroke="#4a4a4a" stroke-width="1"/>
<line x1="468.3" y1="204.55" x2="470.8" y2="204.55" stroke="#4a4a4a" stroke-width="1"/>
<line x1="723.6" y1="204.55" x2="721.1" y2="204.55" stroke="#4a4a4a" stroke-width="1"/>
<line x1="468.3" y1="193.9" x2="472.3" y2="193.9" stroke="#4a4a4a" stroke-width="1"/>
<line x1="723.6" y1="193.9" x2="719.6" y2="193.9" stroke="#4a4a4a" stroke-width="1"/>
<line x1="468.3" y1="183.25" x2="470.8" y2="183.25" stroke="#4a4a4a" stroke-width="1"/>
<line x1="723.6" y1="183.25" x2="721.1" y2="183.25" stroke="#4a4a4a" stroke-width="1"/>
<line x1="468.3" y1="172.6" x2="472.3" y2="172.6" stroke="#4a4a4a" stroke-width="1"/>
<line x1="723.6" y1="172.6" x2="719.6" y2="172.6" stroke="#4a4a4a" stroke-width="1"/>
<line x1="468.3" y1="161.95" x2="470.8" y2="161.95" stroke="#4a4a4a" stroke-width="1"/>
<line x1="723.6" y1="161.95" x2="721.1" y2="161.95" stroke="#4a4a4a" stroke-width="1"/>
<line x1="468.3" y1="432.35" x2="470.8" y2="432.35" stroke="#4a4a4a" stroke-width="1"/>
<line x1="468.3" y1="417" x2="472.3" y2="417" stroke="#4a4a4a" stroke-width="1"/>
<line x1="468.3" y1="401.65" x2="470.8" y2="401.65" stroke="#4a4a4a" stroke-width="1"/>
<line x1="468.3" y1="386.3" x2="472.3" y2="386.3" stroke="#4a4a4a" stroke-width="1"/>
<line x1="468.3" y1="370.95" x2="470.8" y2="370.95" stroke="#4a4a4a" stroke-width="1"/>
<line x1="468.3" y1="355.6" x2="472.3" y2="355.6" stroke="#4a4a4a" stroke-width="1"/>
<line x1="468.3" y1="340.25" x2="470.8" y2="340.25" stroke="#4a4a4a" stroke-width="1"/>
<line x1="468.3" y1="324.9" x2="472.3" y2="324.9" stroke="#4a4a4a" stroke-width="1"/>
<line x1="468.3" y1="309.55" x2="470.8" y2="309.55" stroke="#4a4a4a" stroke-width="1"/>
<line x1="723.6" y1="435.23" x2="721.1" y2="435.23" stroke="#4a4a4a" stroke-width="1"/>
<line x1="723.6" y1="422.97" x2="719.6" y2="422.97" stroke="#4a4a4a" stroke-width="1"/>
<line x1="723.6" y1="410.7" x2="721.1" y2="410.7" stroke="#4a4a4a" stroke-width="1"/>
<line x1="723.6" y1="398.43" x2="719.6" y2="398.43" stroke="#4a4a4a" stroke-width="1"/>
<line x1="723.6" y1="386.17" x2="721.1" y2="386.17" stroke="#4a4a4a" stroke-width="1"/>
<line x1="723.6" y1="373.9" x2="719.6" y2="373.9" stroke="#4a4a4a" stroke-width="1"/>
<line x1="723.6" y1="361.63" x2="721.1" y2="361.63" stroke="#4a4a4a" stroke-width="1"/>
<line x1="723.6" y1="349.36" x2="719.6" y2="349.36" stroke="#4a4a4a" stroke-width="1"/>
<line x1="723.6" y1="337.1" x2="721.1" y2="337.1" stroke="#4a4a4a" stroke-width="1"/>
<line x1="723.6" y1="324.83" x2="719.6" y2="324.83" stroke="#4a4a4a" stroke-width="1"/>
<line x1="723.6" y1="312.56" x2="721.1" y2="312.56" stroke="#4a4a4a" stroke-width="1"/>
<text x="464.7" y="155.7" font-size="10.5" text-anchor="end" fill="#1a1a1a">0</text>
<text x="464.7" y="119.06" font-size="10.5" text-anchor="end" fill="#1a1a1a">2</text>
<text x="464.7" y="82.42" font-size="10.5" text-anchor="end" fill="#1a1a1a">4</text>
<text x="464.7" y="45.78" font-size="10.5" text-anchor="end" fill="#1a1a1a">6</text>
<text x="464.7" y="9.14" font-size="10.5" text-anchor="end" fill="#1a1a1a">8</text>
<text x="464.7" y="303.5" font-size="10.5" text-anchor="end" fill="#1a1a1a">0</text>
<text x="464.7" y="282.2" font-size="10.5" text-anchor="end" fill="#1a1a1a">10000</text>
<text x="464.7" y="260.9" font-size="10.5" text-anchor="end" fill="#1a1a1a">20000</text>
<text x="464.7" y="239.6" font-size="10.5" text-anchor="end" fill="#1a1a1a">30000</text>
<text x="464.7" y="218.3" font-size="10.5" text-anchor="end" fill="#1a1a1a">40000</text>
<text x="464.7" y="197" font-size="10.5" text-anchor="end" fill="#1a1a1a">50000</text>
<text x="464.7" y="175.7" font-size="10.5" text-anchor="end" fill="#1a1a1a">60000</text>
<text x="464.7" y="450.8" font-size="10.5" text-anchor="end" fill="#1a1a1a">0</text>
<text x="464.7" y="420.1" font-size="10.5" text-anchor="end" fill="#1a1a1a">1</text>
<text x="464.7" y="389.4" font-size="10.5" text-anchor="end" fill="#1a1a1a">2</text>
<text x="464.7" y="358.7" font-size="10.5" text-anchor="end" fill="#1a1a1a">3</text>
<text x="464.7" y="328" font-size="10.5" text-anchor="end" fill="#1a1a1a">4</text>
<text x="726.7" y="450.6" font-size="10.5" text-anchor="start" fill="#1a1a1a">0</text>
<text x="726.7" y="426.07" font-size="10.5" text-anchor="start" fill="#1a1a1a">20</text>
<text x="726.7" y="401.53" font-size="10.5" text-anchor="start" fill="#1a1a1a">40</text>
<text x="726.7" y="377" font-size="10.5" text-anchor="start" fill="#1a1a1a">60</text>
<text x="726.7" y="352.46" font-size="10.5" text-anchor="start" fill="#1a1a1a">80</text>
<text x="726.7" y="327.93" font-size="10.5" text-anchor="start" fill="#1a1a1a">100</text>
<text x="726.7" y="303.4" font-size="10.5" text-anchor="start" fill="#1a1a1a">120</text>
<text x="468.3" y="459.7" font-size="10.5" text-anchor="middle" fill="#1a1a1a">0</text>
<text x="507.02" y="459.7" font-size="10.5" text-anchor="middle" fill="#1a1a1a">20</text>
<text x="545.74" y="459.7" font-size="10.5" text-anchor="middle" fill="#1a1a1a">40</text>
<text x="584.46" y="459.7" font-size="10.5" text-anchor="middle" fill="#1a1a1a">60</text>
<text x="623.18" y="459.7" font-size="10.5" text-anchor="middle" fill="#1a1a1a">80</text>
<text x="661.9" y="459.7" font-size="10.5" text-anchor="middle" fill="#1a1a1a">100</text>
<text x="700.62" y="459.7" font-size="10.5" text-anchor="middle" fill="#1a1a1a">120</text>
<clipPath id="cR"><rect x="468.3" y="0" width="265.3" height="546"/></clipPath>
<g clip-path="url(#cR)">
<path d="M472.79 51.92L476.37 52.18M485.35 53.88L489.33 55.12M497.96 54.71L502.25 52.89M511.08 51.28L514.65 51.42M523.85 51.46L527.41 51.34M536.3 52.85L540.48 54.45M549.37 56.24L552.94 56.36M561.83 54.85L566 53.25M574.88 51.92L578.47 52.18M587.66 52.64L591.22 52.76M600.42 52.9L603.98 52.9M613.16 52.43L616.77 52.07M625.94 51.6L629.51 51.6M638.68 52.07L642.29 52.43M651.44 52.43L655.05 52.07M664.23 51.6L667.79 51.6M676.99 51.6L680.55 51.6M689.75 51.6L693.32 51.6M702.52 51.6L706.08 51.6" fill="none" stroke="#555" stroke-width="0.8"/>
<circle cx="468.2" cy="51.6" r="3.3" fill="#fff" stroke="#333" stroke-width="0.9"/>
<path d="M466.2 51.6h4" stroke="#555" stroke-width="0.8"/>
<circle cx="480.96" cy="52.5" r="3.3" fill="#fff" stroke="#333" stroke-width="0.9"/>
<path d="M478.96 52.5h4" stroke="#555" stroke-width="0.8"/>
<circle cx="493.72" cy="56.5" r="3.3" fill="#fff" stroke="#333" stroke-width="0.9"/>
<circle cx="506.49" cy="51.1" r="3.3" fill="#fff" stroke="#333" stroke-width="0.9"/>
<path d="M504.49 51.1h4M506.49 49.1v4" stroke="#555" stroke-width="0.7"/>
<circle cx="519.25" cy="51.6" r="3.3" fill="#fff" stroke="#333" stroke-width="0.9"/>
<path d="M517.25 51.6h4" stroke="#555" stroke-width="0.8"/>
<circle cx="532.01" cy="51.2" r="3.3" fill="#fff" stroke="#333" stroke-width="0.9"/>
<circle cx="544.77" cy="56.1" r="3.3" fill="#fff" stroke="#333" stroke-width="0.9"/>
<circle cx="557.53" cy="56.5" r="3.3" fill="#fff" stroke="#333" stroke-width="0.9"/>
<circle cx="570.3" cy="51.6" r="3.3" fill="#fff" stroke="#333" stroke-width="0.9"/>
<path d="M568.3 51.6h4M570.3 49.6v4" stroke="#555" stroke-width="0.7"/>
<circle cx="583.06" cy="52.5" r="3.3" fill="#fff" stroke="#333" stroke-width="0.9"/>
<path d="M581.06 52.5h4" stroke="#555" stroke-width="0.8"/>
<circle cx="595.82" cy="52.9" r="3.3" fill="#fff" stroke="#333" stroke-width="0.9"/>
<path d="M593.82 52.9h4" stroke="#555" stroke-width="0.8"/>
<circle cx="608.58" cy="52.9" r="3.3" fill="#fff" stroke="#333" stroke-width="0.9"/>
<path d="M606.58 52.9h4" stroke="#555" stroke-width="0.8"/>
<circle cx="621.34" cy="51.6" r="3.3" fill="#fff" stroke="#333" stroke-width="0.9"/>
<path d="M619.34 51.6h4M621.34 49.6v4" stroke="#555" stroke-width="0.7"/>
<circle cx="634.11" cy="51.6" r="3.3" fill="#fff" stroke="#333" stroke-width="0.9"/>
<path d="M632.11 51.6h4M634.11 49.6v4" stroke="#555" stroke-width="0.7"/>
<circle cx="646.87" cy="52.9" r="3.3" fill="#fff" stroke="#333" stroke-width="0.9"/>
<path d="M644.87 52.9h4" stroke="#555" stroke-width="0.8"/>
<circle cx="659.63" cy="51.6" r="3.3" fill="#fff" stroke="#333" stroke-width="0.9"/>
<path d="M657.63 51.6h4M659.63 49.6v4" stroke="#555" stroke-width="0.7"/>
<circle cx="672.39" cy="51.6" r="3.3" fill="#fff" stroke="#333" stroke-width="0.9"/>
<circle cx="685.15" cy="51.6" r="3.3" fill="#fff" stroke="#333" stroke-width="0.9"/>
<path d="M683.15 51.6h4M685.15 49.6v4" stroke="#555" stroke-width="0.7"/>
<circle cx="697.92" cy="51.6" r="3.3" fill="#fff" stroke="#333" stroke-width="0.9"/>
<path d="M695.92 51.6h4M697.92 49.6v4" stroke="#555" stroke-width="0.7"/>
<circle cx="710.68" cy="51.6" r="3.3" fill="#fff" stroke="#333" stroke-width="0.9"/>
<path d="M708.68 51.6h4M710.68 49.6v4" stroke="#555" stroke-width="0.7"/>
<path d="M493.72 48.9V53.2M493.72 59.8V63.3M491.92 48.9h3.6M491.92 63.3h3.6" stroke="#555" stroke-width="0.8" fill="none"/>
<path d="M544.77 48.9V52.8M544.77 59.4V63.3M542.97 48.9h3.6M542.97 63.3h3.6" stroke="#555" stroke-width="0.8" fill="none"/>
<path d="M557.53 49.5V53.2M557.53 59.8V63.3M555.73 49.5h3.6M555.73 63.3h3.6" stroke="#555" stroke-width="0.8" fill="none"/>
<path d="M468.3 163.2L472.5 167.4L468.3 171.6L464.1 167.4Z" fill="#000"/>
<path d="M479.92 159.2L484.12 163.4L479.92 167.6L475.72 163.4Z" fill="#000"/>
<path d="M491.53 187.2L495.73 191.4L491.53 195.6L487.33 191.4Z" fill="#000"/>
<path d="M503.15 198.1L507.35 202.3L503.15 206.5L498.95 202.3Z" fill="#000"/>
<path d="M514.76 202.8L518.96 207L514.76 211.2L510.56 207Z" fill="#000"/>
<path d="M526.38 207.4L530.58 211.6L526.38 215.8L522.18 211.6Z" fill="#000"/>
<path d="M538 199L542.2 203.2L538 207.4L533.8 203.2Z" fill="#000"/>
<path d="M549.61 197.5L553.81 201.7L549.61 205.9L545.41 201.7Z" fill="#000"/>
<path d="M561.23 202.8L565.43 207L561.23 211.2L557.03 207Z" fill="#000"/>
<path d="M572.84 203.4L577.04 207.6L572.84 211.8L568.64 207.6Z" fill="#000"/>
<path d="M584.46 198.1L588.66 202.3L584.46 206.5L580.26 202.3Z" fill="#000"/>
<path d="M596.08 206.5L600.28 210.7L596.08 214.9L591.88 210.7Z" fill="#000"/>
<path d="M607.69 210.5L611.89 214.7L607.69 218.9L603.49 214.7Z" fill="#000"/>
<path d="M619.31 209L623.51 213.2L619.31 217.4L615.11 213.2Z" fill="#000"/>
<path d="M630.92 206.5L635.12 210.7L630.92 214.9L626.72 210.7Z" fill="#000"/>
<path d="M642.54 219.2L646.74 223.4L642.54 227.6L638.34 223.4Z" fill="#000"/>
<path d="M654.16 221.1L658.36 225.3L654.16 229.5L649.96 225.3Z" fill="#000"/>
<path d="M665.77 225.5L669.97 229.7L665.77 233.9L661.57 229.7Z" fill="#000"/>
<path d="M677.39 228.3L681.59 232.5L677.39 236.7L673.19 232.5Z" fill="#000"/>
<path d="M689 227.6L693.2 231.8L689 236L684.8 231.8Z" fill="#000"/>
<path d="M470.6 397.65L477.62 386.15M484.11 381.06L487.34 380.04M495.61 377.05L499.07 375.65M507.55 374L510.36 374M518.56 371.78L522.58 369.42M528.68 363.45L535.7 351.95M541.69 345.81L545.92 343.09M554 340.36L556.84 340.14M565.19 337.89L568.88 336.11M576.73 332.13L580.58 330.07M588.71 326.87L591.82 326.03M600.15 323.25L603.61 321.85M612.02 319.38L614.98 318.82M623.39 316.35L626.85 314.95M634.89 315.21L638.58 316.99M646.93 318.56L649.77 318.34M658.41 319.13L661.52 319.97M670.14 320.54L673.02 320.16M681.75 320.16L684.64 320.54" fill="none" stroke="#444" stroke-width="0.8"/>
<path d="M471.87 427.19L476.35 424.41M483.32 419.74L488.13 416.26M495.24 411.82L499.44 409.58M507.27 406.82L510.64 406.18M518.47 403.42L522.67 401.18M530.05 397.15L534.33 394.75M542.1 391.82L545.51 391.08M553.61 388.93L557.23 387.77M565.22 385.19L568.85 384.01M577.04 382.63L580.26 382.57M587.95 380.16L592.59 377.04M599.82 372.8L603.95 370.7M611.89 368.66L615.11 368.54M623.5 368.18L626.73 368.02M634.2 365.18L639.26 361.12M646.65 357.62L650.05 356.88M658.16 354.73L661.77 353.57M669.67 350.72L673.49 349.18M681.55 348.14L684.84 348.56" fill="none" stroke="#444" stroke-width="0.8"/>
<path d="M654.16 347.3V364.7M652.36 347.3h3.6M652.36 364.7h3.6" stroke="#555" stroke-width="0.8" fill="none"/>
<path d="M665.77 348.5V356.1M663.97 348.5h3.6M663.97 356.1h3.6" stroke="#555" stroke-width="0.8" fill="none"/>
<circle cx="468.3" cy="401.4" r="3.2" fill="#000"/>
<circle cx="479.92" cy="382.4" r="3.2" fill="#000"/>
<circle cx="491.53" cy="378.7" r="3.2" fill="#000"/>
<circle cx="503.15" cy="374" r="3.2" fill="#000"/>
<circle cx="514.76" cy="374" r="3.2" fill="#000"/>
<circle cx="526.38" cy="367.2" r="3.2" fill="#000"/>
<circle cx="538" cy="348.2" r="3.2" fill="#000"/>
<circle cx="549.61" cy="340.7" r="3.2" fill="#000"/>
<circle cx="561.23" cy="339.8" r="3.2" fill="#000"/>
<circle cx="572.84" cy="334.2" r="3.2" fill="#000"/>
<circle cx="584.46" cy="328" r="3.2" fill="#000"/>
<circle cx="596.08" cy="324.9" r="3.2" fill="#000"/>
<circle cx="607.69" cy="320.2" r="3.2" fill="#000"/>
<circle cx="619.31" cy="318" r="3.2" fill="#000"/>
<circle cx="630.92" cy="313.3" r="3.2" fill="#000"/>
<circle cx="642.54" cy="318.9" r="3.2" fill="#000"/>
<circle cx="654.16" cy="318" r="3.2" fill="#000"/>
<circle cx="665.77" cy="321.1" r="3.2" fill="#000"/>
<circle cx="677.39" cy="319.6" r="3.2" fill="#000"/>
<circle cx="689" cy="321.1" r="3.2" fill="#000"/>
<rect x="465.5" y="426.6" width="5.6" height="5.6" fill="#000"/>
<rect x="477.12" y="419.4" width="5.6" height="5.6" fill="#000"/>
<rect x="488.73" y="411" width="5.6" height="5.6" fill="#000"/>
<rect x="500.35" y="404.8" width="5.6" height="5.6" fill="#000"/>
<rect x="511.96" y="402.6" width="5.6" height="5.6" fill="#000"/>
<rect x="523.58" y="396.4" width="5.6" height="5.6" fill="#000"/>
<rect x="535.2" y="389.9" width="5.6" height="5.6" fill="#000"/>
<rect x="546.81" y="387.4" width="5.6" height="5.6" fill="#000"/>
<rect x="558.43" y="383.7" width="5.6" height="5.6" fill="#000"/>
<rect x="570.04" y="379.9" width="5.6" height="5.6" fill="#000"/>
<rect x="581.66" y="379.7" width="5.6" height="5.6" fill="#000"/>
<rect x="593.28" y="371.9" width="5.6" height="5.6" fill="#000"/>
<rect x="604.89" y="366" width="5.6" height="5.6" fill="#000"/>
<rect x="616.51" y="365.6" width="5.6" height="5.6" fill="#000"/>
<rect x="628.12" y="365" width="5.6" height="5.6" fill="#000"/>
<rect x="639.74" y="355.7" width="5.6" height="5.6" fill="#000"/>
<rect x="651.36" y="353.2" width="5.6" height="5.6" fill="#000"/>
<rect x="662.97" y="349.5" width="5.6" height="5.6" fill="#000"/>
<rect x="674.59" y="344.8" width="5.6" height="5.6" fill="#000"/>
<rect x="686.2" y="346.3" width="5.6" height="5.6" fill="#000"/>
</g>
<text transform="translate(428,42.3) rotate(-90) scale(1,0.95)" font-size="17.5" text-anchor="middle" fill="#000">pH</text>
<line x1="419.5" y1="60" x2="419.5" y2="99.8" stroke="#8a8a8a" stroke-width="1"/>
<circle cx="419.5" cy="79.4" r="4.95" fill="#fff" stroke="#111" stroke-width="1.1"/>
<text transform="translate(424.4,269.6) rotate(-90) scale(1,0.95)" font-size="16.5" fill="#000">Y<tspan font-size="10.3" dx="0.2" dy="7">P/X</tspan><tspan dy="-7"> (U</tspan><tspan font-size="10.3" dy="7">enzyme</tspan><tspan dy="-7">/g</tspan><tspan font-size="10.3" dy="7">cells</tspan><tspan dy="-7">)</tspan></text>
<path d="M415.9 291.1L422.8 297.9L415.9 304.7L409 297.9Z" fill="#000"/>
<text transform="translate(426.5,363.7) rotate(-90) scale(1,0.95)" font-size="17.5" text-anchor="middle" fill="#000">CDW (g/L)</text>
<line x1="417.6" y1="412.3" x2="417.6" y2="452.2" stroke="#8a8a8a" stroke-width="1"/>
<rect x="412.8" y="427.1" width="9.6" height="9.8" fill="#000"/>
<text transform="translate(770.7,342.5) rotate(-90) scale(1,0.95)" font-size="17.5" text-anchor="middle" fill="#000">Pectinase (U/mL)</text>
<line x1="763.6" y1="418" x2="763.6" y2="457.3" stroke="#8a8a8a" stroke-width="1"/>
<circle cx="763.6" cy="437.2" r="5.5" fill="#000"/>
<text x="589.5" y="483.1" font-size="17.5" text-anchor="middle" fill="#000">Time (h)</text>
<text class="cap" x="181.35" y="539.4" font-size="19" text-anchor="middle" fill="#000">Uncontrolled pH</text>
<text class="cap" x="584.2" y="539.4" font-size="19" text-anchor="middle" fill="#000">Controlled pH</text>
</svg>
</body></html>
